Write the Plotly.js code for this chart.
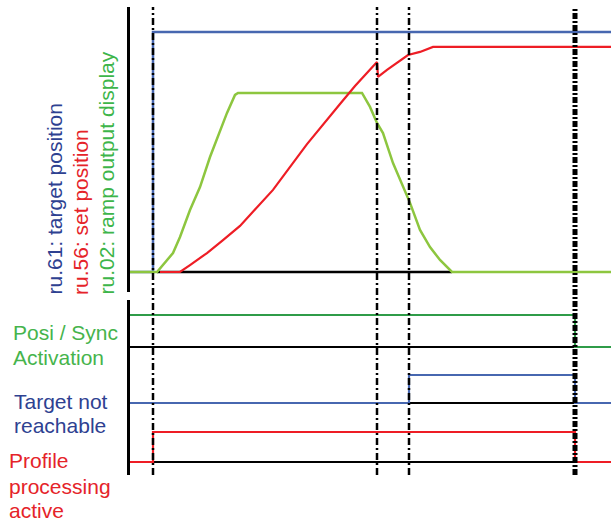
<!DOCTYPE html>
<html><head><meta charset="utf-8">
<script src="https://cdn.plot.ly/plotly-3.0.1.min.js"></script>
<style>html,body{margin:0;padding:0;background:#fff}</style>
</head><body><div id="chart" style="width:611px;height:522px"></div>
<script>
// ---- data (time in arbitrary units, positions in % of target) ----
const targetT = [0, 23, 23, 481];
const targetV = [0, 0, 100, 100];
const setT = [30, 50, 60, 77, 93, 110, 143, 177, 210, 225, 247, 248, 257, 267, 278, 290, 300, 303, 481];
const setV = [0, 0, 2.9, 7.9, 13.3, 19.2, 34.2, 53.3, 70, 77.5, 87.5, 81.3, 84.2, 87.1, 90.4, 91.7, 93.3, 93.8, 93.8];
const rampT = [0, 27, 43, 50, 60, 70, 80, 88, 97, 105, 108, 232, 240, 247, 253, 263, 273, 280, 290, 300, 310, 320, 322, 481];
const rampV = [0, 0, 7.9, 14.6, 25.8, 35.4, 47.9, 56.3, 66.3, 73.8, 74.6, 74.6, 68.8, 62.1, 57.9, 45.4, 35.4, 28.8, 17.5, 10.4, 5, 0.8, 0, 0];
const eventT = [23, 247, 279, 445];
const posiT = [0, 445, 445, 481];
const posiV = [1, 1, 0, 0];
const tnrT = [0, 279, 279, 445, 445, 481];
const tnrV = [0, 0, 1, 1, 0, 0];
const ppaT = [0, 23, 23, 445, 445, 481];
const ppaV = [0, 0, 1, 1, 0, 0];
const topLabels = ["ru.61: target position", "ru.56: set position", "ru.02: ramp output display"];
const laneLabels = [["Posi / Sync", "Activation"], ["Target not", "reachable"], ["Profile", "processing", "active"]];

// ---- styles / layout helpers ----
const W = 611, H = 522, L = 130;
const px2x = p => (p - L) / (W - L);
const py2y = p => 1 - p / H;
const FONT = "Liberation Sans, Arial, sans-serif";
const C = {
  blueLine: "#4767b0", redLine: "#ee1d25", greenRamp: "#8dc63f", greenSig: "#2f9c48",
  blueText: "#2e4191", redText: "#e52329", greenText: "#3db54a", greenText2: "#46b44c"
};

const traces = [];
// baseline under the ramp (where ramp active)
let firstNZ = rampV.findIndex(v => v > 0) - 1;
let lastNZ = rampV.length - 1 - [...rampV].reverse().findIndex(v => v > 0) + 1;
traces.push({x: [rampT[firstNZ], rampT[lastNZ]], y: [0, 0], mode: "lines", line: {color: "#000", width: 2.5}, hoverinfo: "skip"});
traces.push({x: targetT, y: targetV, mode: "lines", line: {color: C.blueLine, width: 2.5}});
traces.push({x: rampT, y: rampV, mode: "lines", line: {color: C.greenRamp, width: 2.5}});
traces.push({x: setT, y: setV, mode: "lines", line: {color: C.redLine, width: 2.2}});

// digital lanes (yaxis2, units = px above lower edge of the panel)
const lanes = [
  {t: posiT, v: posiV, base: 128, amp: 32, color: C.greenSig},
  {t: tnrT, v: tnrV, base: 72, amp: 28, color: C.blueLine},
  {t: ppaT, v: ppaV, base: 13, amp: 30, color: C.redLine}
];
lanes.forEach(ln => {
  const bx = [], by = [];
  for (let i = 0; i < ln.t.length - 1; i++) {
    if (ln.v[i] === 1 && ln.v[i + 1] === 1) { bx.push(ln.t[i], ln.t[i + 1], null); by.push(ln.base, ln.base, null); }
  }
  traces.push({x: bx, y: by, yaxis: "y2", mode: "lines", line: {color: "#000", width: 2.2}});
  traces.push({x: ln.t, y: ln.v.map(v => ln.base + ln.amp * v), yaxis: "y2", mode: "lines", line: {color: ln.color, width: 2.2}});
});

const shapes = eventT.map((t, i) => ({
  type: "line", xref: "x", yref: "paper", x0: t, x1: t, y0: py2y(475), y1: py2y(7),
  line: {color: "#000", width: i === eventT.length - 1 ? 5 : 2.5, dash: i === eventT.length - 1 ? "6px,2px,2px,2px" : "7px,3px,2px,3px"}
}));

const annotations = [];
const topCols = [54, 80, 106], topColors = [C.blueText, C.redText, C.greenText];
topLabels.forEach((s, i) => annotations.push({
  text: s, xref: "paper", yref: "paper", x: px2x(topCols[i]), y: py2y(297), xanchor: "center", yanchor: "bottom",
  textangle: -90, showarrow: false, font: {family: FONT, size: 21, color: topColors[i]}
}));
const laneColors = [C.greenText2, C.blueText, C.redText];
const laneX = [11, 12, 7];
const laneY = [[332, 357], [401, 425], [460, 486, 510]];
laneLabels.forEach((lines, i) => lines.forEach((s, j) => annotations.push({
  text: s, xref: "paper", yref: "paper", x: px2x(laneX[i]), y: py2y(laneY[i][j]), xanchor: "left", yanchor: "middle",
  showarrow: false, font: {family: FONT, size: 21, color: laneColors[i]}
})));

const hiddenAxis = {showgrid: false, zeroline: false, showticklabels: false, ticks: ""};
const layout = {
  width: W, height: H, margin: {l: L, r: 0, t: 0, b: 0, pad: 0},
  paper_bgcolor: "#fff", plot_bgcolor: "#fff", showlegend: false,
  xaxis: Object.assign({range: [0, 481], showline: false}, hiddenAxis),
  yaxis: Object.assign({domain: [py2y(292), py2y(7)], range: [-20 / 2.4, 265 / 2.4], showline: true, linecolor: "#000", linewidth: 3}, hiddenAxis),
  yaxis2: Object.assign({domain: [py2y(475), py2y(300)], range: [0, 175], anchor: "x", showline: true, linecolor: "#000", linewidth: 3}, hiddenAxis),
  shapes: shapes, annotations: annotations
};
Plotly.newPlot("chart", traces, layout, {displayModeBar: false, staticPlot: true});
</script></body></html>
